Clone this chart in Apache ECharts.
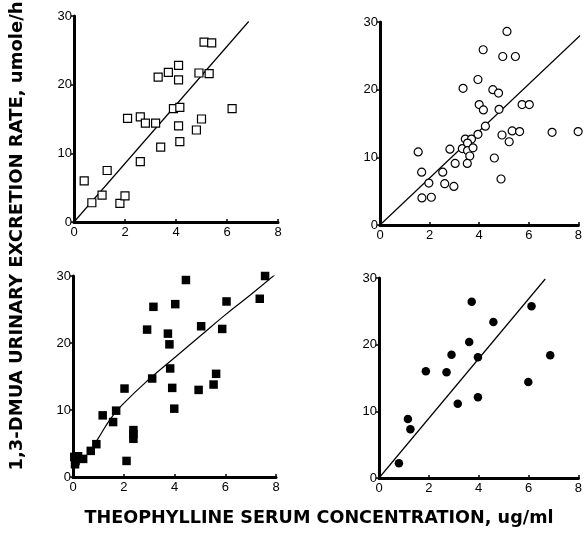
<!DOCTYPE html>
<html>
<head>
<meta charset="utf-8">
<script src="https://cdn.jsdelivr.net/npm/echarts@6/dist/echarts.min.js"></script>
<style>
  html, body { margin: 0; padding: 0; background: #fff; }
  #chart { width: 585px; height: 537px; }
</style>
</head>
<body>
<div id="chart"></div>
<script>
// tick values shared by all four panels
const xTicks = [0, 2, 4, 6, 8];
const yTicks = [0, 10, 20, 30];

// top left: open squares
const openSquares = [
  [0.4, 6.0], [0.7, 2.8], [1.1, 3.9], [1.3, 7.5], [1.8, 2.7], [2.0, 3.8],
  [2.1, 15.1], [2.6, 15.3], [2.8, 14.4], [2.6, 8.8], [3.2, 14.4], [3.3, 21.1],
  [3.7, 21.8], [3.4, 10.9], [3.9, 16.5], [4.1, 22.8], [4.1, 20.7], [4.15, 16.7],
  [4.1, 14.0], [4.15, 11.7], [4.8, 13.4], [5.0, 15.0], [4.9, 21.7], [5.3, 21.6],
  [5.1, 26.2], [5.4, 26.1], [6.2, 16.5]
];
const openSquaresFit = [[0, 0], [6.85, 29.2]];

// top right: open circles
const openCircles = [
  [1.54, 10.8], [1.68, 7.8], [1.69, 4.0], [1.97, 6.2], [2.07, 4.1], [2.53, 7.8],
  [2.61, 6.1], [2.82, 11.2], [2.98, 5.7], [3.03, 9.1], [3.35, 20.2], [3.32, 11.3],
  [3.44, 12.7], [3.69, 12.7], [3.53, 12.1], [3.53, 11.0], [3.75, 11.4], [3.62, 10.2],
  [3.52, 9.1], [3.95, 13.4], [3.95, 21.5], [4.0, 17.8], [4.17, 17.0], [4.16, 25.9],
  [4.28, 30.1], [4.25, 14.6], [4.55, 20.0], [4.78, 19.5], [4.61, 9.9], [4.8, 17.1],
  [4.88, 6.8], [4.92, 13.3], [4.95, 24.9], [5.12, 28.6], [5.21, 12.3], [5.33, 13.9],
  [5.46, 24.9], [5.63, 13.8], [5.73, 17.8], [6.02, 17.8], [6.94, 13.7], [7.99, 13.8]
];
const openCirclesFit = [[0, 0], [8.1, 28.1]];

// bottom left: filled squares
const filledSquares = [
  [0.05, 3.0], [0.1, 2.4], [0.08, 1.9], [0.2, 3.1], [0.4, 2.7], [0.7, 3.9],
  [0.92, 4.9], [1.17, 9.2], [1.58, 8.2], [1.7, 9.9], [2.03, 13.2], [2.11, 2.4],
  [2.38, 7.0], [2.38, 6.4], [2.38, 5.7], [2.92, 22.0], [3.12, 14.7], [3.17, 25.4],
  [3.74, 21.4], [3.8, 19.8], [3.83, 16.2], [3.91, 13.3], [4.03, 25.8], [3.99, 10.2],
  [4.45, 29.4], [4.95, 13.0], [5.05, 22.5], [5.54, 13.8], [5.64, 15.4], [5.88, 22.1],
  [6.05, 26.2], [7.36, 26.6], [7.57, 30.0]
];
const filledSquaresFit = [
  [0.7, 4.0], [1.0, 5.8], [1.5, 8.8], [2.0, 11.0], [3.0, 14.6], [4.0, 17.8],
  [5.0, 21.0], [6.0, 24.2], [7.0, 27.2], [8.05, 30.5]
];

// bottom right: filled circles
const filledCircles = [
  [0.8, 2.2], [1.16, 8.85], [1.26, 7.3], [1.88, 16.0], [2.71, 15.85], [2.91, 18.5],
  [3.16, 11.15], [3.62, 20.4], [3.72, 26.45], [3.97, 18.1], [3.97, 12.1], [4.59, 23.4],
  [5.99, 14.4], [6.12, 25.75], [6.87, 18.4]
];
const filledCirclesFit = [[0, 0], [6.67, 29.85]];

const yTitle = '1,3-DMUA URINARY EXCRETION RATE, umole/h';
const xTitle = 'THEOPHYLLINE SERUM CONCENTRATION, ug/ml';

let chart = echarts.init(document.getElementById('chart'), null, {renderer: 'canvas'});

const grids = [
  {left: 74, top: 16, width: 204, height: 206},
  {left: 380, top: 22, width: 202, height: 203},
  {left: 73, top: 276, width: 203, height: 201},
  {left: 379, top: 278, width: 203, height: 200}
];

const labelFont = {color: '#000', fontFamily: 'Liberation Sans', fontSize: 13};

let xAxes = grids.map((g, i) => ({
  type: 'value', gridIndex: i, min: xTicks[0], max: xTicks[xTicks.length - 1], interval: 2,
  splitLine: {show: false},
  axisLine: {show: true, onZero: false, lineStyle: {color: '#000', width: 3}},
  axisTick: {show: true, inside: true, length: 3, lineStyle: {color: '#000', width: 1.5}},
  axisLabel: Object.assign({margin: 4}, labelFont)
}));
let yAxes = grids.map((g, i) => ({
  type: 'value', gridIndex: i, min: yTicks[0], max: yTicks[yTicks.length - 1], interval: 10,
  splitLine: {show: false},
  axisLine: {show: true, onZero: false, lineStyle: {color: '#000', width: 3}},
  axisTick: {show: true, length: 3, lineStyle: {color: '#000', width: 1.5}},
  axisLabel: Object.assign({margin: 2}, labelFont)
}));

function scatter(idx, data, symbol, filled, size) {
  return {
    type: 'scatter', xAxisIndex: idx, yAxisIndex: idx, data: data,
    symbol: symbol, symbolSize: size, silent: true,
    itemStyle: filled
      ? {color: '#000', borderColor: '#000', borderWidth: 0, opacity: 1}
      : {color: '#fff', borderColor: '#000', borderWidth: 1.2, opacity: 1}
  };
}
function fit(idx, data, smooth) {
  return {
    type: 'line', xAxisIndex: idx, yAxisIndex: idx, data: data,
    showSymbol: false, smooth: smooth, silent: true, z: 1,
    lineStyle: {color: '#000', width: 1.2}
  };
}

let option = {
  backgroundColor: '#fff',
  animation: false,
  grid: grids,
  xAxis: xAxes,
  yAxis: yAxes,
  series: [
    fit(0, openSquaresFit, false),
    scatter(0, openSquares, 'rect', false, 8),
    fit(1, openCirclesFit, false),
    scatter(1, openCircles, 'circle', false, 8),
    fit(2, filledSquaresFit, true),
    scatter(2, filledSquares, 'rect', true, 8.5),
    fit(3, filledCirclesFit, false),
    scatter(3, filledCircles, 'circle', true, 8.5)
  ],
  graphic: [
    {
      type: 'text', x: 17, y: 236, rotation: Math.PI / 2,
      style: {
        text: yTitle, fill: '#000', fontFamily: 'DejaVu Sans', fontWeight: 'bold',
        fontSize: 18, align: 'center', verticalAlign: 'middle'
      }
    },
    {
      type: 'text', x: 319, y: 518,
      style: {
        text: xTitle, fill: '#000', fontFamily: 'DejaVu Sans', fontWeight: 'bold',
        fontSize: 17.6, align: 'center', verticalAlign: 'middle'
      }
    }
  ]
};
chart.setOption(option);
</script>
</body>
</html>
